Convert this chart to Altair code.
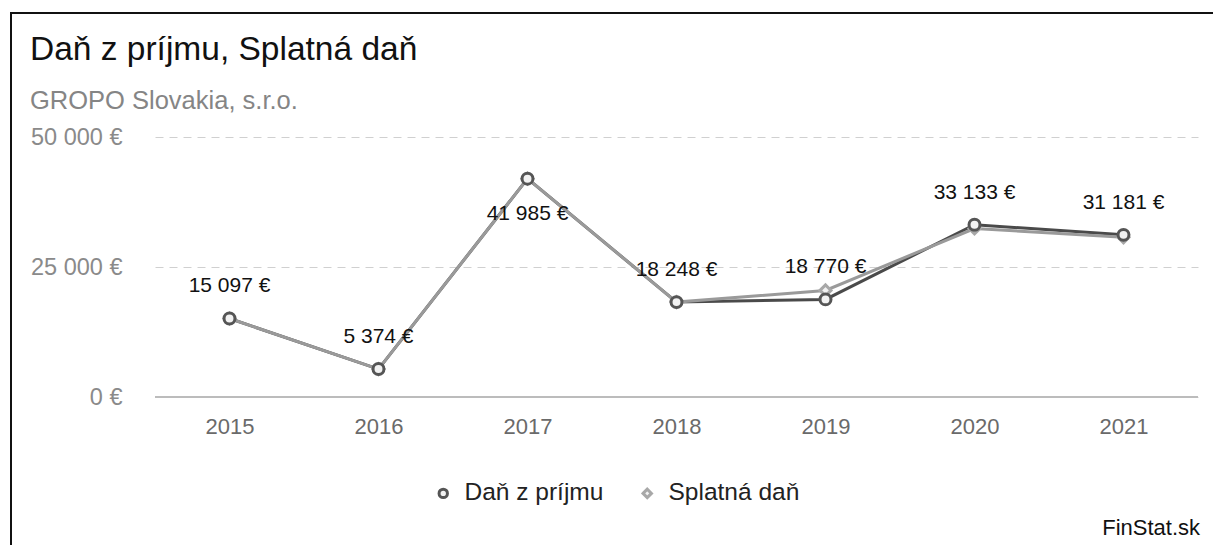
import altair as alt
import pandas as pd

years = ["2015", "2016", "2017", "2018", "2019", "2020", "2021"]
dan_z_prijmu = [15097, 5374, 41985, 18248, 18770, 33133, 31181]
splatna_dan = [15097, 5374, 41985, 18248, 20500, 32400, 30700]
series_names = ["Daň z príjmu", "Splatná daň"]
y_ticks = [0, 25000, 50000]

def fmt(v):
    return f"{v:,}".replace(",", " ") + " €"

rows = []
for i, yr in enumerate(years):
    rows.append({"year": yr, "series": series_names[0], "value": dan_z_prijmu[i],
                 "label": fmt(dan_z_prijmu[i]), "below": yr == "2017"})
    rows.append({"year": yr, "series": series_names[1], "value": splatna_dan[i],
                 "label": fmt(splatna_dan[i]), "below": False})
df = pd.DataFrame(rows)

FONT = "Liberation Sans"
W, H = 1043, 260

x_enc = alt.X("year:O", title=None, sort=years,
              scale=alt.Scale(type="point", padding=0.5),
              axis=alt.Axis(labelAngle=0, labelFontSize=22, labelColor="#6a6a6a",
                            labelFont=FONT, labelPadding=19, ticks=False, domain=False,
                            grid=False))
y_enc = alt.Y("value:Q", title=None, scale=alt.Scale(domain=[0, 50000], nice=False),
              axis=alt.Axis(values=y_ticks, labelFontSize=23.5, labelColor="#8a8a8a",
                            labelFont=FONT, labelPadding=33, ticks=False, domain=False,
                            grid=True, gridDash=[8, 6], gridColor="#d0d0d0",
                            labelExpr="replace(format(datum.value, ','), regexp(',', 'g'), ' ') + ' €'"))

base = alt.Chart(df)

baseline = base.mark_rule(color="#bdbdbd", strokeWidth=1.5).encode(
    x=alt.value(0), x2=alt.value(W), y=alt.value(H))

line_dark = base.transform_filter(alt.datum.series == series_names[0]).mark_line(
    color="#4a4a4a", strokeWidth=3).encode(x=x_enc, y=y_enc)
line_light = base.transform_filter(alt.datum.series == series_names[1]).mark_line(
    color="#9a9a9a", strokeWidth=3).encode(x=x_enc, y=y_enc)

leg = alt.Legend(title=None, orient="none", direction="horizontal",
                 legendX=276, legendY=344, labelFontSize=24.5,
                 labelFont=FONT, labelColor="#222222",
                 symbolSize=70, symbolStrokeWidth=3,
                 columnPadding=31, labelOffset=9)

points = base.mark_point(filled=False, size=120, strokeWidth=3, fill="#f2f2f2", fillOpacity=1,
                         opacity=1).encode(
    x=x_enc, y=y_enc,
    color=alt.Color("series:N", sort=series_names,
                    scale=alt.Scale(domain=series_names, range=["#555555", "#a8a8a8"]),
                    legend=leg),
    shape=alt.Shape("series:N", sort=series_names,
                    scale=alt.Scale(domain=series_names, range=["circle", "diamond"]),
                    legend=leg),
    order=alt.Order("series:N", sort="descending"),
)

labels_above = base.transform_filter(
    (alt.datum.series == series_names[0]) & (alt.datum.below == False)
).mark_text(fontSize=21, font=FONT, color="#111111", dy=-32).encode(
    x=x_enc, y=y_enc, text="label:N")
labels_below = base.transform_filter(
    (alt.datum.series == series_names[0]) & (alt.datum.below == True)
).mark_text(fontSize=21, font=FONT, color="#111111", dy=35).encode(
    x=x_enc, y=y_enc, text="label:N")

title_df = pd.DataFrame({"t": ["Daň z príjmu, Splatná daň"]})
title = alt.Chart(title_df).mark_text(fontSize=33.5, font=FONT, color="#111111", align="left",
                                      baseline="middle").encode(
    x=alt.value(-125), y=alt.value(-87), text="t:N")
sub_df = pd.DataFrame({"t": ["GROPO Slovakia, s.r.o."]})
subtitle = alt.Chart(sub_df).mark_text(fontSize=25.5, font=FONT, color="#858585", align="left",
                                       baseline="middle").encode(
    x=alt.value(-125), y=alt.value(-36), text="t:N")
src_df = pd.DataFrame({"t": ["FinStat.sk"]})
source = alt.Chart(src_df).mark_text(fontSize=22, font=FONT, color="#111111", align="right",
                                     baseline="middle").encode(
    x=alt.value(1045), y=alt.value(391), text="t:N")

frame = alt.Chart(title_df).mark_rect(fill=None, stroke="#111111", strokeWidth=2).encode(
    x=alt.value(-144), x2=alt.value(1062), y=alt.value(-124), y2=alt.value(411))

chart = alt.layer(
    frame, baseline, line_dark, line_light, points, labels_above, labels_below,
    title, subtitle, source
).properties(
    width=W, height=H,
    autosize=alt.AutoSizeParams(type="none"),
    padding={"left": 147, "top": 129, "right": 15, "bottom": 148},
    background="white",
).configure_view(stroke=None)

chart.save("out.html", embed_options={"renderer": "svg", "actions": False})
